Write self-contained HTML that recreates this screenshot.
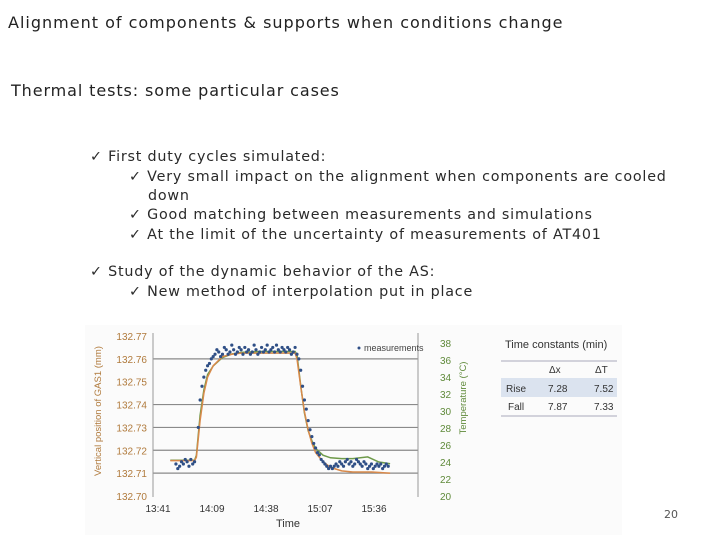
<!DOCTYPE html>
<html><head><meta charset="utf-8"><style>
body{margin:0;width:720px;height:540px;background:#fff;overflow:hidden;position:relative;font-family:"DejaVu Sans","Liberation Sans",sans-serif;color:#222}
.t{position:absolute;white-space:nowrap;letter-spacing:1px}
.b{position:absolute;font-size:14.3px;white-space:nowrap;color:#2a2a2a;letter-spacing:0.8px}
</style></head><body>
<div class="t" style="left:8px;top:13px;font-size:16px">Alignment of components &amp; supports when conditions change</div>
<div class="t" style="left:11px;top:81px;font-size:16px;letter-spacing:0.9px">Thermal tests: some particular cases</div>
<div class="b" style="left:90px;top:149px">✓ First duty cycles simulated:</div>
<div class="b" style="left:129px;top:169px">✓ Very small impact on the alignment when components are cooled</div>
<div class="b" style="left:148px;top:188px">down</div>
<div class="b" style="left:129px;top:207px">✓ Good matching between measurements and simulations</div>
<div class="b" style="left:129px;top:227px">✓ At the limit of the uncertainty of measurements of AT401</div>
<div class="b" style="left:90px;top:264px">✓ Study of the dynamic behavior of the AS:</div>
<div class="b" style="left:129px;top:284px">✓ New method of interpolation put in place</div>
<svg id="c" width="720" height="540" style="position:absolute;left:0;top:0" font-family="Liberation Sans, sans-serif"></svg>
<div class="t" style="left:664px;top:508px;font-size:11px;color:#555;letter-spacing:0">20</div>
<script>
const yTicks=["132.77","132.76","132.75","132.74","132.73","132.72","132.71","132.70"];
const tTicks=["38","36","34","32","30","28","26","24","22","20"];
const xTicks=["13:41","14:09","14:38","15:07","15:36"];
const gridVals=[132.76,132.74,132.73,132.72,132.71];
const measT=[15,16,17,18,19,20,21,22,23,24,25,27,28,29,30,31,32,33,34,35,36,37,38,39,40,41,42,43,44,45,46,47,48,49,50,51,52,53,54,55,56,57,58,59,60,61,62,63,64,65,66,67,68,69,70,71,72,73,74,75,76,77,78,79,80,81,82,83,84,85,86,87,88,89,90,91,92,93,94,95,96,97,98,99,100,101,102,103,104,105,106,107,108,109,110,111,112,113,114,115,116,117,118,119,120,121,122,123,124,125,126,127,128,129];
const measV=[132.714,132.712,132.713,132.715,132.714,132.716,132.715,132.713,132.716,132.714,132.715,132.73,132.742,132.748,132.752,132.755,132.757,132.758,132.760,132.761,132.762,132.764,132.763,132.761,132.762,132.765,132.764,132.762,132.763,132.766,132.764,132.762,132.763,132.765,132.764,132.762,132.765,132.763,132.764,132.762,132.763,132.766,132.764,132.762,132.763,132.765,132.763,132.764,132.766,132.763,132.764,132.765,132.763,132.766,132.764,132.763,132.765,132.764,132.763,132.765,132.764,132.762,132.763,132.765,132.762,132.760,132.755,132.748,132.742,132.738,132.733,132.729,132.726,132.723,132.721,132.719,132.718,132.716,132.715,132.714,132.713,132.712,132.713,132.712,132.713,132.714,132.713,132.715,132.714,132.713,132.715,132.716,132.714,132.715,132.713,132.714,132.716,132.715,132.714,132.713,132.715,132.714,132.712,132.713,132.714,132.712,132.713,132.714,132.713,132.714,132.712,132.713,132.714,132.713,132.712];
const modelT=[12,25,26,28,30,32,35,40,45,50,60,70,79,80,82,84,86,88,90,94,98,104,110,120,130];
const modelV=[132.7155,132.7155,132.717,132.733,132.745,132.752,132.757,132.761,132.762,132.7625,132.7625,132.7625,132.7625,132.760,132.748,132.737,132.729,132.723,132.719,132.715,132.7125,132.711,132.7105,132.7105,132.710];
const tempT=[12,25,26,28,30,32,35,40,45,50,60,70,79,80,82,84,86,88,90,94,98,104,110,118,124,130];
const tempV=[24.2,24.2,24.8,29.5,32.5,34.3,35.3,36.3,36.7,36.9,37.0,37.0,37.0,36.6,33.0,29.8,27.7,26.5,25.6,24.8,24.5,24.4,24.4,24.6,24.0,23.8];
const X0=148,Y70=496,YL=160;
const x=m=>X0+m*54/29, y=v=>Y70-(v-132.70)/0.07*YL, yT=t=>496-(t-20)/18*153;
const s=document.getElementById('c'),NS='http://www.w3.org/2000/svg';
function el(tag,a,txt){const e=document.createElementNS(NS,tag);for(const k in a)e.setAttribute(k,a[k]);if(txt!=null)e.textContent=txt;s.appendChild(e);return e;}
let e=el('rect',{x:85,y:325,width:537,height:210,fill:'#fbfbfb'});

gridVals.forEach(v=>{const g=el('line',{x1:153,x2:418,y1:y(v),y2:y(v),stroke:'#8a8a8a','stroke-width':1.2});});
e=el('line',{x1:153,x2:153,y1:333,y2:497,stroke:'#999'});
e=el('line',{x1:418,x2:418,y1:333,y2:497,stroke:'#999'});
yTicks.forEach(l=>{const t=el('text',{x:147,y:y(+l)+4,'text-anchor':'end','font-size':10,fill:'#b07a3c'},l);});
tTicks.forEach(l=>{const t=el('text',{x:440,y:yT(+l)+4,'font-size':10,fill:'#5f8a3a'},l);});
xTicks.forEach((l,i)=>{const t=el('text',{x:X0+i*54+10,y:512,'text-anchor':'middle','font-size':10,fill:'#333'},l);});
e=el('text',{x:288,y:527,'text-anchor':'middle','font-size':11,fill:'#333'},'Time');
e=el('text',{x:101,y:411,'text-anchor':'middle','font-size':9.5,fill:'#b07a3c',transform:'rotate(-90 101 411)'},'Vertical position of GAS1 (mm)');
e=el('text',{x:466,y:398,'text-anchor':'middle','font-size':9.5,fill:'#5f8a3a',transform:'rotate(-90 466 398)'},'Temperature (°C)');
const pth=(ts,vs,f)=>ts.map((t,i)=>(i?'L':'M')+x(t).toFixed(1)+','+f(vs[i]).toFixed(1)).join('');
e=el('path',{d:pth(tempT,tempV,yT),fill:'none',stroke:'#6e9a4a','stroke-width':1.5});
e=el('path',{d:pth(modelT,modelV,y),fill:'none',stroke:'#d8894a','stroke-width':1.5});
const nM=Math.min(measT.length,measV.length);
for(let i=0;i<nM;i++){const c=el('circle',{cx:x(measT[i]),cy:y(measV[i]),r:1.6,fill:'#2f4f86'});}
e=el('circle',{cx:359,cy:348,r:1.5,fill:'#2f4f86'});
e=el('text',{x:364,y:351,'font-size':9,fill:'#444'},'measurements');
e=el('text',{x:505,y:348,'font-size':11,fill:'#333'},'Time constants (min)');
e=el('line',{x1:501,x2:617,y1:361,y2:361,stroke:'#aab'});
e=el('rect',{x:501,y:378,width:116,height:19,fill:'#dbe3ef'});
e=el('line',{x1:501,x2:617,y1:416,y2:416,stroke:'#aab'});
[['Δx',549,373],['ΔT',595,373],['Rise',506,392],['7.28',548,392],['7.52',594,392],['Fall',508,410],['7.87',548,410],['7.33',594,410]].forEach(r=>{const t=el('text',{x:r[1],y:r[2],'font-size':10,fill:'#333'},r[0]);});
</script>
</body></html>
